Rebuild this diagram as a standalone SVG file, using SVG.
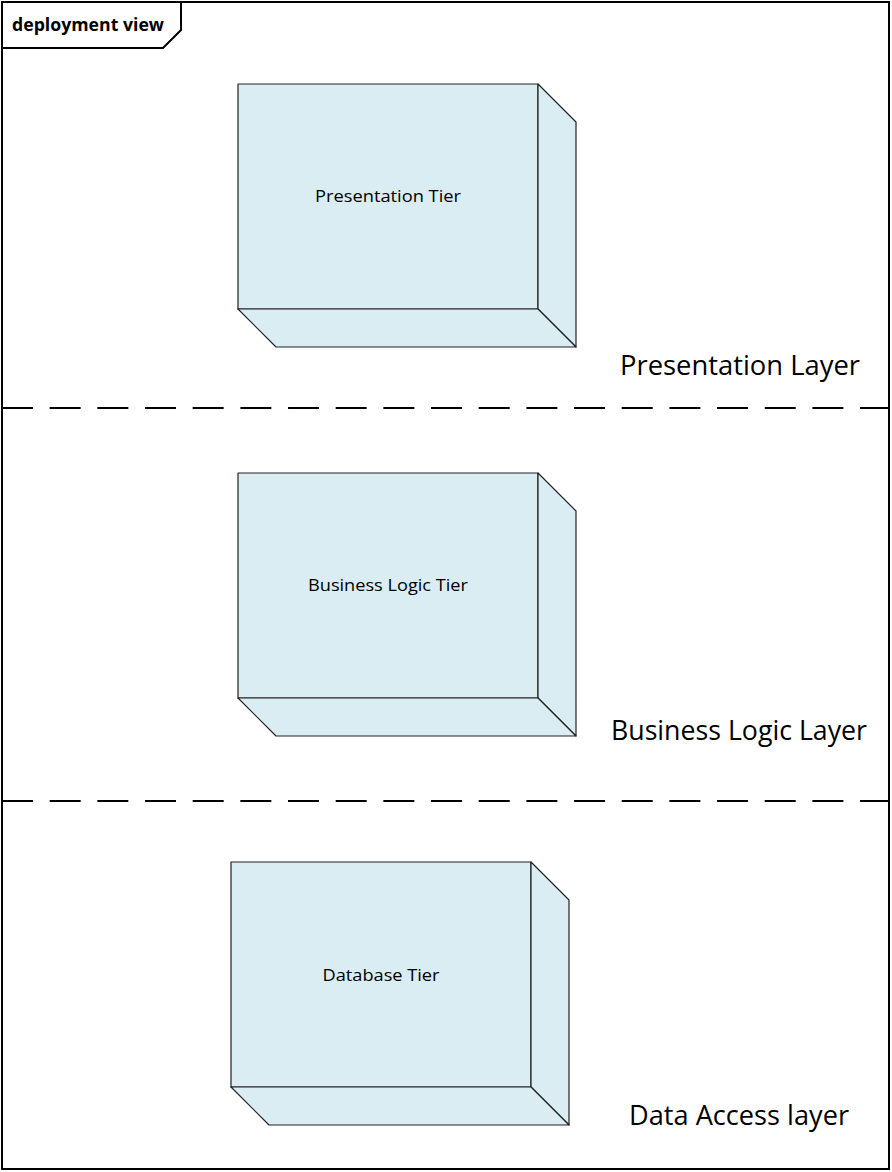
<svg xmlns="http://www.w3.org/2000/svg" width="892" height="1172" viewBox="0 0 892 1172">
<style>
.frame{fill:#fff;stroke:#000;stroke-width:2}
.tab{fill:none;stroke:#000;stroke-width:2}
.sep{stroke:#000;stroke-width:2;stroke-dasharray:31 16.67;fill:none}
.box{fill:#daedf3;stroke:#222;stroke-width:1.2;stroke-linejoin:round}
.lbl{font-family:"Open Sans","Noto Sans",sans-serif;font-size:17px;fill:#000;text-anchor:middle}
.layer{font-family:"Open Sans","Noto Sans",sans-serif;font-size:27px;fill:#000}
.title{font-family:"Open Sans","Noto Sans",sans-serif;font-size:17px;font-weight:bold;fill:#000}
</style>
<rect class="frame" x="2" y="2" width="887" height="1167"/>
<path class="tab" d="M2,48 H163 L181,30 V2"/>
<text class="title" x="12" y="31" textLength="152" lengthAdjust="spacingAndGlyphs">deployment view</text>
<g id="connectors">
<line class="sep" x1="2" y1="408" x2="889" y2="408"/>
<line class="sep" x1="2" y1="801" x2="889" y2="801"/>
</g>
<g id="presentation-tier">
<rect class="box" x="238" y="84" width="300" height="225"/>
<polygon class="box" points="538,84 576,122 576,347 538,309"/>
<polygon class="box" points="238,309 538,309 576,347 276,347"/>
<text class="lbl" x="388" y="202" textLength="146" lengthAdjust="spacingAndGlyphs">Presentation Tier</text>
</g>
<g id="business-logic-tier">
<rect class="box" x="238" y="473" width="300" height="225"/>
<polygon class="box" points="538,473 576,511 576,736 538,698"/>
<polygon class="box" points="238,698 538,698 576,736 276,736"/>
<text class="lbl" x="388" y="591" textLength="160" lengthAdjust="spacingAndGlyphs">Business Logic Tier</text>
</g>
<g id="database-tier">
<rect class="box" x="231" y="862" width="300" height="225"/>
<polygon class="box" points="531,862 569,900 569,1125 531,1087"/>
<polygon class="box" points="231,1087 531,1087 569,1125 269,1125"/>
<text class="lbl" x="381" y="981" textLength="117" lengthAdjust="spacingAndGlyphs">Database Tier</text>
</g>
<g id="layer-labels">
<text class="layer" x="620" y="375" textLength="240" lengthAdjust="spacingAndGlyphs">Presentation Layer</text>
<text class="layer" x="611" y="740" textLength="256" lengthAdjust="spacingAndGlyphs">Business Logic Layer</text>
<text class="layer" x="629" y="1125" textLength="220" lengthAdjust="spacingAndGlyphs">Data Access layer</text>
</g>
</svg>
